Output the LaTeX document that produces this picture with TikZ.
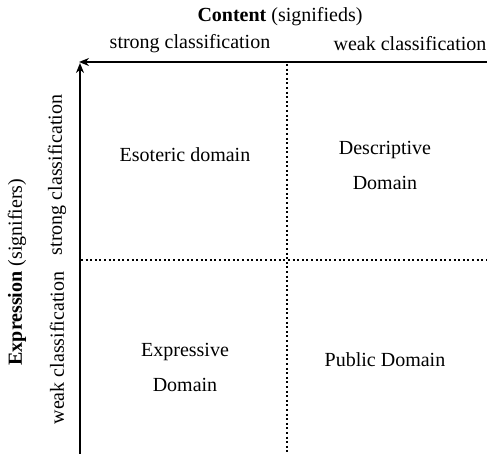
\documentclass[tikz,border=0pt]{standalone}
\usepackage{fontspec}
\setmainfont{Liberation Serif}
\usetikzlibrary{arrows.meta}
\begin{document}
\begin{tikzpicture}[x=1pt,y=-1pt,
  lbl/.style={font=\fontsize{20}{24}\selectfont, inner sep=0pt},
  cell/.style={font=\fontsize{20}{35}\selectfont, align=center, inner sep=0pt},
  axis/.style={line width=1.8pt, -{Stealth[length=10pt,width=8pt]}},
  grid/.style={line width=2pt, dash pattern=on 2pt off 2.6pt}]
\useasboundingbox (0,0) rectangle (487,454);
% axes
\coordinate (R) at (487,62);
\coordinate (TL) at (79,62);
\coordinate (B) at (80,454);
\coordinate (T) at (80,63);
\draw[axis] (R) -- (TL);
\draw[axis] (B) -- (T);
% dotted grid
\coordinate (vt) at (287,64);
\coordinate (vb) at (287,454);
\coordinate (hl) at (81,260);
\coordinate (hr) at (487,260);
\draw[grid] (vt) -- (vb);
\draw[grid] (hl) -- (hr);
% top labels
\node[lbl] (content) at (280,17) {\textbf{Content} (signifieds)};
\node[lbl] (sc) at (190,44) {strong classification};
\node[lbl] (wc) at (410,44) {weak classification};
% left labels
\node[lbl, rotate=90] (expr) at (17,272) {\textbf{Expression} (signifiers)};
\node[lbl, rotate=90] (scv) at (57,175) {strong classification};
\node[lbl, rotate=90] (wcv) at (57,348) {weak classification};
% cells
\node[cell] (eso) at (185,155) {Esoteric domain};
\node[cell] (desc) at (385,165) {Descriptive\\Domain};
\node[cell] (expd) at (185,367) {Expressive\\Domain};
\node[cell] (pub) at (385,360) {Public Domain};
\end{tikzpicture}
\end{document}
